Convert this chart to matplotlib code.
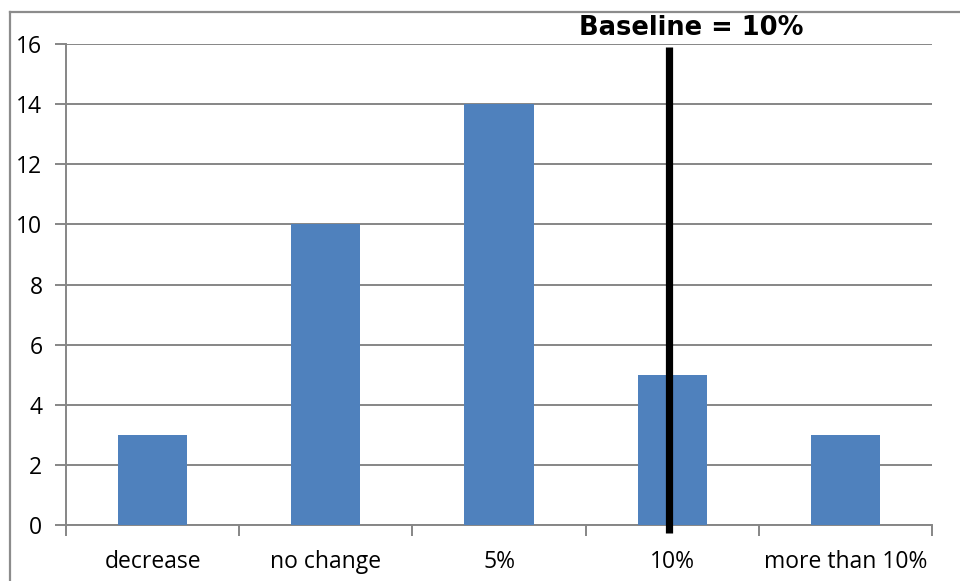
import matplotlib
matplotlib.use("Agg")
import matplotlib.pyplot as plt
from matplotlib.lines import Line2D
import numpy as np

categories = ["decrease", "no change", "5%", "10%", "more than 10%"]
counts = [3, 10, 14, 5, 3]
baseline_category = "10%"
baseline_label = "Baseline = 10%"
y_ticks = [0, 2, 4, 6, 8, 10, 12, 14, 16]

plt.rcParams["font.family"] = ["Open Sans", "DejaVu Sans"]

fig = plt.figure(figsize=(9.6, 5.81), dpi=100)
ax = fig.add_axes([66 / 960, 56 / 581, 866 / 960, 481 / 581])

grid_color = "#868686"
x = np.arange(len(categories))
ax.bar(x, counts, width=0.4, color="#4F81BD", zorder=3)

ax.set_xlim(-0.5, len(categories) - 0.5)
ax.set_ylim(0, 16)
ax.set_yticks(y_ticks)
ax.set_yticklabels([str(v) for v in y_ticks], fontsize=16.5)
ax.yaxis.grid(True, color=grid_color, linewidth=1.4, zorder=0)
ax.set_axisbelow(True)

# category labels centered under bars, tick marks on boundaries
ax.set_xticks(x)
ax.set_xticklabels(categories, fontsize=16.5)
ax.tick_params(axis="x", which="major", length=0, pad=18)
ax.set_xticks(np.arange(-0.5, len(categories)), minor=True)
ax.tick_params(axis="x", which="minor", length=8, width=1.4, color=grid_color)
ax.tick_params(axis="y", length=8, width=1.4, color=grid_color, pad=9)

for side in ["top", "right"]:
    ax.spines[side].set_visible(False)
for side in ["left", "bottom"]:
    ax.spines[side].set_color(grid_color)
    ax.spines[side].set_linewidth(1.4)

# baseline marker
bx = categories.index(baseline_category) - 0.02
ax.plot([bx, bx], [15.9, -0.27], color="black", linewidth=5.2,
        solid_capstyle="butt", clip_on=False, zorder=5)

fig.text(691 / 960, 1 - 28 / 581, baseline_label, fontsize=18.5,
         fontweight="bold", ha="center", va="center",
         family=["DejaVu Sans"])

# outer chart frame
fig.add_artist(Line2D([10 / 960, 10 / 960], [0, 1 - 12 / 581],
                      transform=fig.transFigure, color="#8c8c8c", linewidth=1.6))
fig.add_artist(Line2D([10 / 960, 1], [1 - 12 / 581, 1 - 12 / 581],
                      transform=fig.transFigure, color="#8c8c8c", linewidth=1.6))

fig.savefig("out.png", dpi=100)
